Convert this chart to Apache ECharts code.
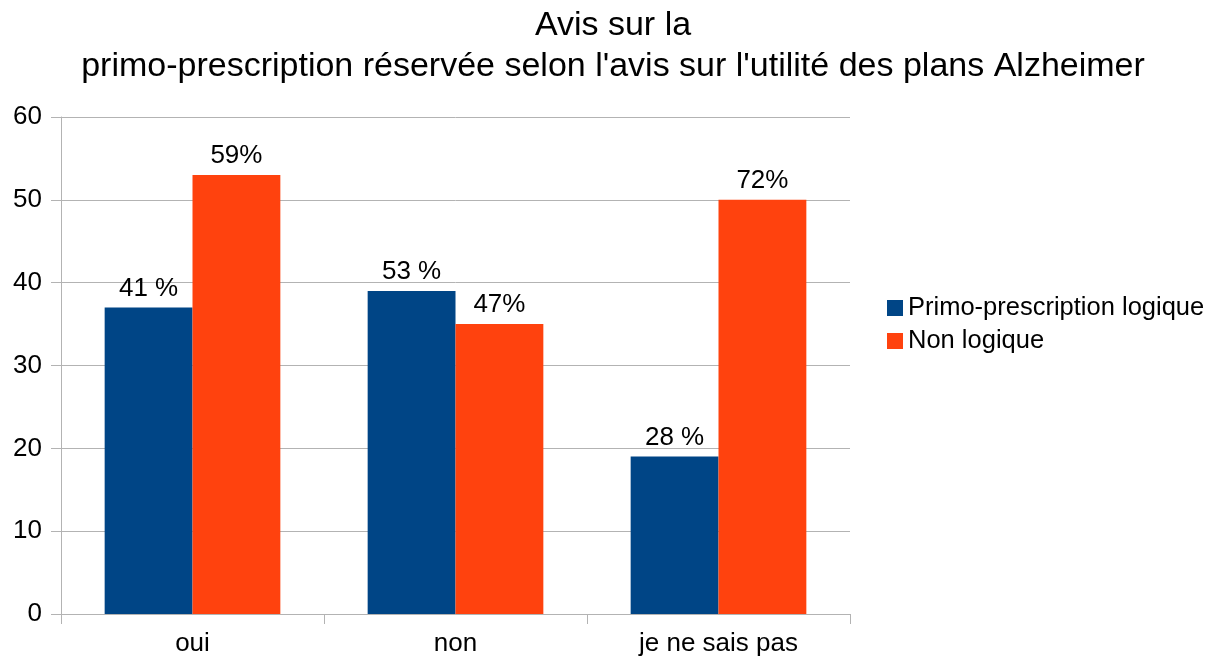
<!DOCTYPE html>
<html><head><meta charset="utf-8">
<script src="https://cdn.jsdelivr.net/npm/echarts@6/dist/echarts.min.js"></script>
<style>html,body{margin:0;padding:0;background:#fff}#c{width:1211px;height:660px}</style>
</head><body><div id="c"></div>
<script>
const categories = ["oui", "non", "je ne sais pas"];
const seriesNames = ["Primo-prescription logique", "Non logique"];
const logique = [37, 39, 19];
const nonLogique = [53, 35, 50];
const logiqueLabels = ["41 %", "53 %", "28 %"];
const nonLogiqueLabels = ["59%", "47%", "72%"];
const yTicks = [0, 10, 20, 30, 40, 50, 60];

const font = '"Liberation Sans", Arial, sans-serif';
const chart = echarts.init(document.getElementById('c'), null, {renderer: 'canvas'});
chart.setOption({
  animation: false,
  title: {
    text: 'Avis sur la\nprimo-prescription réservée selon l\'avis sur l\'utilité des plans Alzheimer',
    left: 608, top: 0, textAlign: 'center',
    textStyle: {fontFamily: font, fontSize: 34, fontWeight: 'normal', color: '#000', lineHeight: 41}
  },
  legend: {
    orient: 'vertical', left: 882, top: 290,
    itemWidth: 16, itemHeight: 16, itemGap: 7, icon: 'rect',
    textStyle: {fontFamily: font, fontSize: 25.5, color: '#000'},
    data: seriesNames
  },
  grid: {left: 61, right: 361, top: 117, bottom: 46},
  xAxis: {
    type: 'category', data: categories,
    axisLine: {show: true, lineStyle: {color: '#b3b3b3'}},
    axisTick: {show: true, length: 10, lineStyle: {color: '#b3b3b3'}},
    axisLabel: {fontFamily: font, fontSize: 26, color: '#000', margin: 17}
  },
  yAxis: {
    type: 'value', min: yTicks[0], max: yTicks[yTicks.length-1], interval: 10,
    axisLine: {show: true, lineStyle: {color: '#b3b3b3'}},
    axisTick: {show: true, length: 10, lineStyle: {color: '#b3b3b3'}},
    splitLine: {lineStyle: {color: '#b3b3b3'}},
    axisLabel: {fontFamily: font, fontSize: 26, color: '#000', margin: 19}
  },
  series: [
    {name: seriesNames[0], type: 'bar', data: logique, barWidth: '33.4%', barGap: '0%',
     itemStyle: {color: '#004586'},
     label: {show: true, position: 'top', distance: 6, fontFamily: font, fontSize: 26, color: '#000',
       formatter: p => logiqueLabels[p.dataIndex]}},
    {name: seriesNames[1], type: 'bar', data: nonLogique, barWidth: '33.4%', barGap: '0%',
     itemStyle: {color: '#ff420e'},
     label: {show: true, position: 'top', distance: 6, fontFamily: font, fontSize: 26, color: '#000',
       formatter: p => nonLogiqueLabels[p.dataIndex]}}
  ]
});
</script></body></html>
